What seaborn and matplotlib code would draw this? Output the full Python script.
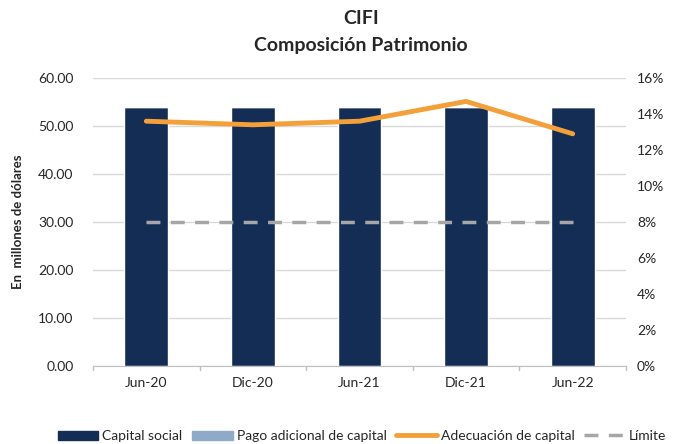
import matplotlib
matplotlib.use("Agg")
import matplotlib.pyplot as plt
import seaborn as sns
import pandas as pd
from matplotlib.lines import Line2D
from matplotlib.patches import Patch

categories = ["Jun-20", "Dic-20", "Jun-21", "Dic-21", "Jun-22"]
capital_social = [54.0, 54.0, 54.0, 54.0, 54.0]
pago_adicional = [0.0, 0.0, 0.0, 0.0, 0.0]
adecuacion = [13.6, 13.4, 13.6, 14.7, 12.9]
limite = [8.0, 8.0, 8.0, 8.0, 8.0]

sns.set_style("white")
plt.rcParams['font.family'] = ['Lato', 'DejaVu Sans']

fig = plt.figure(figsize=(6.76, 4.44), dpi=100)
ax = fig.add_axes([93/676, 1-366/444, (626-93)/676, (366-78)/444])

df = pd.DataFrame({"cat": categories, "cs": capital_social, "pa": pago_adicional})
sns.barplot(data=df, x="cat", y="cs", color="#132d55", width=0.41, ax=ax, saturation=1)
sns.barplot(data=df, x="cat", y="pa", color="#8eaac8", width=0.41, ax=ax, saturation=1,
            bottom=df["cs"])

ax.set_ylim(0, 60)
ax.set_yticks(range(0, 61, 10))
ax.set_yticklabels([f"{v:.2f}" for v in range(0, 61, 10)], fontsize=10)
ax.set_xlim(-0.5, 4.5)
ax.set_xlabel("")
ax.set_ylabel("En  millones de dólares", fontsize=9.5, fontweight="bold", labelpad=10)
ax.grid(axis="y", color="#d9d9d9", linewidth=1)
ax.set_axisbelow(True)
for s in ["top", "right", "left"]:
    ax.spines[s].set_visible(False)
ax.spines["bottom"].set_color("#bfbfbf")
ax.set_xticks(range(5))
ax.set_xticklabels(categories, fontsize=10)
ax.tick_params(axis="x", length=0, pad=8)
ax.tick_params(axis="y", length=0, pad=14)
for b in [-0.5, 0.5, 1.5, 2.5, 3.5, 4.5]:
    ax.plot([b, b], [0, -0.9], color="#bfbfbf", lw=1, clip_on=False)

ax2 = ax.twinx()
x = list(range(5))
sns.lineplot(x=x, y=adecuacion, ax=ax2, color="#f4a03a", linewidth=3.5)
sns.lineplot(x=x, y=limite, ax=ax2, color="#a6a6a6", linewidth=2.5, linestyle=(0, (4, 3)))
ax2.set_ylim(0, 16)
ax2.set_yticks(range(0, 17, 2))
ax2.set_yticklabels([f"{v}%" for v in range(0, 17, 2)], fontsize=10)
ax2.tick_params(axis="y", length=0, pad=8)
for s in ax2.spines.values():
    s.set_visible(False)
ax2.set_xlim(-0.5, 4.5)

fig.text(361/676, 1-18/444, "CIFI", ha="center", va="center", fontsize=14, fontweight="bold")
fig.text(361/676, 1-45/444, "Composición Patrimonio", ha="center", va="center", fontsize=14, fontweight="bold")

handles = [Patch(color="#132d55"), Patch(color="#8eaac8"),
           Line2D([], [], color="#f4a03a", lw=3.5),
           Line2D([], [], color="#a6a6a6", lw=2.5, linestyle=(0, (4, 3)))]
labels = ["Capital social", "Pago adicional de capital", "Adecuación de capital", "Límite"]
fig.legend(handles, labels, loc="center", bbox_to_anchor=(362/676, 1-436/444), ncol=4,
           frameon=False, fontsize=10, handlelength=2.9, handletextpad=0.3, columnspacing=0.7,
           handleheight=0.6, borderaxespad=0, borderpad=0)

fig.savefig("out.png", dpi=100)
